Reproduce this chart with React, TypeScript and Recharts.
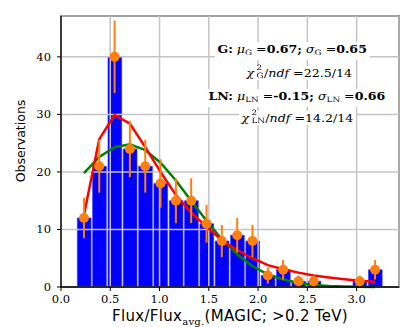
import React from "react";
import {
  ComposedChart,
  Bar,
  Line,
  Scatter,
  ErrorBar,
  XAxis,
  YAxis,
  CartesianGrid,
  ReferenceArea,
} from "recharts";

// histogram bins (flux / average flux)
const binCenters = [0.233, 0.388, 0.544, 0.699, 0.855, 1.01, 1.166, 1.321, 1.477, 1.632, 1.788, 1.943, 2.099, 2.254, 2.41, 2.565, 2.72, 2.876, 3.031, 3.187];
const counts = [12, 21, 40, 24, 21, 18, 15, 15, 11, 8, 9, 8, 2, 3, 1, 1, 0, 0, 1, 3];
const countErrors = [3.5, 4.6, 6.3, 4.9, 4.6, 4.2, 3.9, 3.9, 3.3, 2.8, 3.0, 2.8, 1.4, 1.7, 1.0, 1.0, 0, 0, 1.0, 1.7];
// fitted curves, sampled at bin centres
const logNormalFit = [12.5, 25.7, 29.9, 28.4, 24.3, 20.0, 16.0, 12.9, 10.5, 8.1, 6.4, 5.0, 3.8, 3.1, 2.5, 2.0, 1.65, 1.35, 1.1, 0.9];
const gaussFit = [19.8, 22.6, 24.3, 24.8, 23.8, 21.6, 18.5, 15.0, 11.5, 8.3, 5.7, 3.6, 2.2, 1.3, 0.7, 0.35, 0.17, 0.08, 0.03, 0.01];

const xTicks = [0, 0.5, 1, 1.5, 2, 2.5, 3];
const yTicks = [0, 10, 20, 30, 40];
const X_MAX = 3.43;
const Y_MAX = 47.1;

const rows = binCenters.map((x, i) => ({
  x,
  n: counts[i],
  err: countErrors[i],
  ln: logNormalFit[i],
  g: gaussFit[i],
}));
const points = rows.filter((r) => r.n > 0);

const serif = "DejaVu Serif";
const sans = "DejaVu Sans";

const sub: React.CSSProperties = { fontSize: "0.7em", verticalAlign: "-0.3em", fontStyle: "normal", fontWeight: "normal" };

// chi^2 with stacked super/subscript
function SupSub({ sup, sb, w }: { sup: string; sb: string; w: string }) {
  const s: React.CSSProperties = { position: "absolute", left: 0, fontSize: "0.7em", fontStyle: "normal", lineHeight: 1 };
  return (
    <span style={{ position: "relative", display: "inline-block", width: w, height: "1em", marginLeft: 2 }}>
      <span style={{ ...s, top: "-0.35em" }}>{sup}</span>
      <span style={{ ...s, top: "0.75em" }}>{sb}</span>
    </span>
  );
}

function TextLine({ left, top, children }: { left: number; top: number; children: React.ReactNode }) {
  return (
    <div
      style={{
        position: "absolute",
        left,
        top,
        fontFamily: serif,
        fontSize: 10.5,
        lineHeight: "14px",
        whiteSpace: "nowrap",
        background: "#fff",
        padding: "0 2px",
        transform: "scaleX(1.2)",
        transformOrigin: "left center",
        color: "#000",
      }}
    >
      {children}
    </div>
  );
}

function XTick(props: any) {
  const { x, y, payload } = props;
  return (
    <text x={x} y={y + 9} textAnchor="middle" fontFamily={serif} fontSize={11.5} fill="#000">
      {payload.value.toFixed(1)}
    </text>
  );
}

function YTick(props: any) {
  const { x, y, payload } = props;
  return (
    <text x={x} y={y + 4} textAnchor="end" fontFamily={serif} fontSize={11.5} fill="#000">
      {payload.value}
    </text>
  );
}

function XLabel(props: any) {
  const vb = props.viewBox;
  const cx = vb.x + vb.width / 2;
  return (
    <text x={cx} y={321} textAnchor="middle" fontFamily={sans} fontSize={15} letterSpacing={0.3} fill="#000">
      Flux/Flux
      <tspan fontFamily={serif} fontSize={10} dy={4}>avg.</tspan>
      <tspan dy={-4}>(MAGIC; &gt;0.2 TeV)</tspan>
    </text>
  );
}

function YLabel() {
  return (
    <text x={0} y={0} transform="translate(25,141) rotate(-90)" textAnchor="middle" fontFamily={sans} fontSize={12.5} fill="#000">
      Observations
    </text>
  );
}

function Dot(props: any) {
  return <circle cx={props.cx} cy={props.cy} r={5} fill="#ff7f0e" />;
}

export default function App() {
  return (
    <div style={{ position: "fixed", left: 0, top: 0, width: 407, height: 327, background: "#fff" }}>
      <ComposedChart width={407} height={327} data={rows} margin={{ top: 16, right: 8, left: 0, bottom: 0 }}>
        <XAxis
          dataKey="x"
          type="number"
          domain={[0, X_MAX]}
          ticks={xTicks}
          height={40}
          axisLine={{ stroke: "#000", strokeWidth: 1.3 }}
          tickLine={{ stroke: "#000" }}
          tickSize={4}
          tickMargin={3}
          tick={<XTick />}
          label={<XLabel />}
        />
        <YAxis
          type="number"
          domain={[0, Y_MAX]}
          ticks={yTicks}
          width={61}
          axisLine={{ stroke: "#000", strokeWidth: 1.3 }}
          tickLine={{ stroke: "#000" }}
          tickSize={4}
          tickMargin={6}
          tick={<YTick />}
          label={<YLabel />}
        />
        <Bar dataKey="n" fill="#0000ff" stroke="#3333ff" strokeWidth={0.6} barSize={15.35} isAnimationActive={false} />
        <CartesianGrid stroke="#c4c4c4" strokeWidth={1.5} zIndex={350} />
        <Line type="linear" dataKey="g" stroke="#008000" strokeWidth={2.5} dot={false} isAnimationActive={false} />
        <Line type="linear" dataKey="ln" stroke="#ff0000" strokeWidth={2.5} dot={false} isAnimationActive={false} />
        <Scatter data={points} dataKey="n" shape={<Dot />} isAnimationActive={false}>
          <ErrorBar dataKey="err" direction="y" width={0} stroke="#ff7f0e" strokeWidth={2} />
        </Scatter>
        <ReferenceArea x1={0} x2={X_MAX} y1={0} y2={Y_MAX} fill="none" stroke="#000" strokeWidth={1.3} ifOverflow="visible" />
      </ComposedChart>

      <TextLine left={215} top={42}>
        <b>G:</b> <i>μ</i><span style={sub}>G</span> =<b>0.67;</b> <i>σ</i><span style={sub}>G</span> =<b>0.65</b>
      </TextLine>
      <TextLine left={244} top={66}>
        <i>χ</i><SupSub sup="2" sb="G" w="0.6em" />/<i>ndf</i> =22.5/14
      </TextLine>
      <TextLine left={206} top={89}>
        <b>LN:</b> <i>μ</i><span style={sub}>LN</span> =<b>-0.15;</b> <i>σ</i><span style={sub}>LN</span> =<b>0.66</b>
      </TextLine>
      <TextLine left={239} top={111}>
        <i>χ</i><SupSub sup="2" sb="LN" w="1.1em" />/<i>ndf</i> =14.2/14
      </TextLine>
    </div>
  );
}
